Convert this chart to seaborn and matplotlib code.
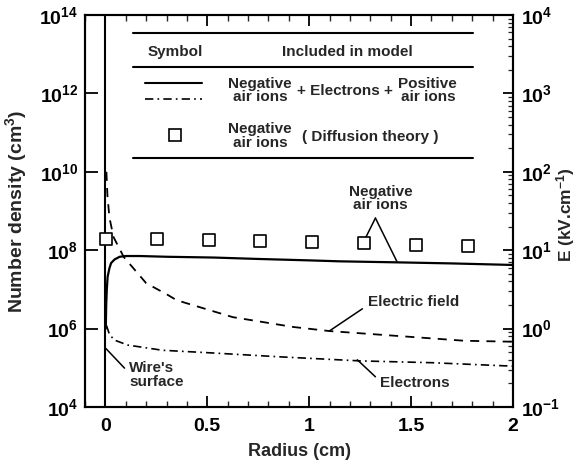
import numpy as np
import pandas as pd
import seaborn as sns
import matplotlib
matplotlib.use("Agg")
import matplotlib.pyplot as plt
from matplotlib.ticker import FixedLocator, NullLocator, LogLocator, FixedFormatter, NullFormatter

# ---------------- data ----------------
r_ions = [0.002, 0.004, 0.007, 0.011, 0.02, 0.028, 0.045, 0.07, 0.1, 0.17, 0.3, 0.53, 0.74, 1.0, 1.15, 1.43, 1.7, 2.0]
n_ions = [1.0e6, 4.0e6, 1.0e7, 2.1e7, 3.5e7, 4.7e7, 5.8e7, 6.8e7, 7.1e7, 7.1e7, 6.8e7, 6.5e7, 6.0e7, 5.5e7, 5.2e7, 4.9e7, 4.6e7, 4.2e7]

r_elec = [0.005, 0.008, 0.02, 0.044, 0.11, 0.28, 0.52, 0.86, 1.25, 1.6, 2.0]
n_elec = [1.2e6, 1.1e6, 7.1e5, 5.1e5, 3.8e5, 2.8e5, 2.4e5, 1.9e5, 1.5e5, 1.35e5, 1.1e5]

r_field = [0.005, 0.01, 0.02, 0.04, 0.09, 0.2, 0.305, 0.35, 0.625, 0.92, 1.1, 1.51, 1.76, 2.0]
e_field = [100, 50, 26, 14.7, 8.2, 3.8, 2.7, 2.3, 1.4, 1.05, 0.93, 0.78, 0.70, 0.68]

r_diff = [0.005, 0.255, 0.51, 0.76, 1.015, 1.27, 1.525, 1.78]
n_diff = [1.93e8, 1.93e8, 1.82e8, 1.74e8, 1.65e8, 1.5e8, 1.35e8, 1.28e8]

x_ticks = [0, 0.5, 1, 1.5, 2]
x_ticklabels = ["0", "0.5", "1", "1.5", "2"]
yl_ticks = [1e4, 1e6, 1e8, 1e10, 1e12, 1e14]
yl_ticklabels = [r"$\mathbf{10^{4}}$", r"$\mathbf{10^{6}}$", r"$\mathbf{10^{8}}$",
                 r"$\mathbf{10^{10}}$", r"$\mathbf{10^{12}}$", r"$\mathbf{10^{14}}$"]
yr_ticks = [1e-1, 1e0, 1e1, 1e2, 1e3, 1e4]
yr_ticklabels = [r"$\mathbf{10^{-1}}$", r"$\mathbf{10^{0}}$", r"$\mathbf{10^{1}}$",
                 r"$\mathbf{10^{2}}$", r"$\mathbf{10^{3}}$", r"$\mathbf{10^{4}}$"]

# ---------------- style ----------------
sns.set_theme(style="white")
plt.rcParams["font.family"] = ["Liberation Sans", "DejaVu Sans"]
plt.rcParams["font.weight"] = "bold"
plt.rcParams["mathtext.fontset"] = "custom"
plt.rcParams["mathtext.rm"] = "Liberation Sans:bold"
plt.rcParams["mathtext.bf"] = "Liberation Sans:bold"
plt.rcParams["mathtext.it"] = "Liberation Sans:bold"

fig = plt.figure(figsize=(5.81, 4.65), dpi=100)
ax = fig.add_axes([85 / 581, 1 - 407 / 465, 428 / 581, 392 / 465])
ax2 = ax.twinx()

ax.set_yscale("log")
ax2.set_yscale("log")
ax.set_xlim(-0.1, 2.0)
ax.set_ylim(1e4, 1e14)
ax2.set_ylim(1e-1, 1e4)

# wire surface
ax.axvline(0, color="black", lw=1.5, zorder=1)

df_ions = pd.DataFrame({"r": r_ions, "n": n_ions})
df_elec = pd.DataFrame({"r": r_elec, "n": n_elec})
df_field = pd.DataFrame({"r": r_field, "E": e_field})
df_diff = pd.DataFrame({"r": r_diff, "n": n_diff})

sns.lineplot(data=df_ions, x="r", y="n", ax=ax, color="black", lw=1.6, estimator=None, sort=False)
sns.lineplot(data=df_elec, x="r", y="n", ax=ax, color="black", lw=1.2, estimator=None, sort=False)
ax.lines[-1].set_linestyle((0, (5, 2.5, 1, 2.5)))
sns.scatterplot(data=df_diff, x="r", y="n", ax=ax, marker="s", s=75, facecolor="white",
                edgecolor="black", linewidth=1.2, zorder=5)
sns.lineplot(data=df_field, x="r", y="E", ax=ax2, color="black", lw=1.3, estimator=None, sort=False)
ax2.lines[-1].set_linestyle((0, (5, 4)))

# ---------------- axes / ticks ----------------
for a in (ax, ax2):
    for s in a.spines.values():
        s.set_color("black")
        s.set_linewidth(1.5)

ax.xaxis.set_major_locator(FixedLocator(x_ticks))
ax.xaxis.set_major_formatter(FixedFormatter(x_ticklabels))
ax.xaxis.set_minor_locator(FixedLocator([round(-0.1 + 0.1 * i, 2) for i in range(22)]))
ax.yaxis.set_major_locator(FixedLocator(yl_ticks))
ax.yaxis.set_major_formatter(FixedFormatter(yl_ticklabels))
ax.yaxis.set_minor_locator(NullLocator())
ax.yaxis.set_minor_formatter(NullFormatter())

ax2.yaxis.set_major_locator(FixedLocator(yr_ticks))
ax2.yaxis.set_major_formatter(FixedFormatter(yr_ticklabels))
ax2.yaxis.set_minor_locator(LogLocator(base=10, subs=np.arange(2, 10), numticks=20))
ax2.yaxis.set_minor_formatter(NullFormatter())

ax.tick_params(axis="x", which="major", direction="in", length=8, width=1.3, bottom=True, top=True,
               labelsize=14, pad=8, colors="black")
ax.tick_params(axis="x", which="minor", direction="in", length=4, width=1.0, bottom=True, top=True)
ax.tick_params(axis="y", which="major", direction="in", length=9, width=1.3, left=True, right=False,
               labelsize=14, pad=5, colors="black")
ax2.tick_params(axis="y", which="major", direction="in", length=7, width=1.3, right=True, left=False,
                labelsize=14, pad=6, colors="black")
ax2.tick_params(axis="y", which="minor", direction="in", length=3.5, width=0.9, right=True, left=False)

ax.set_xlabel("Radius (cm)", fontsize=13, fontweight="bold", labelpad=6)
ax.set_ylabel(r"Number density (cm$^{3}$)", fontsize=14, fontweight="bold")
ax.yaxis.set_label_coords(-0.132, 0.5)
ax2.set_ylabel(r"E (kV.cm$^{-1}$)", fontsize=12.5, fontweight="bold")
ax2.yaxis.set_label_coords(1.097, 0.49)

# ---------------- annotations ----------------
fs = 11
line_kw = dict(arrowstyle="-", color="black", lw=1.1, shrinkA=0, shrinkB=0)
ax.text(1.35, 2.1e9, "Negative\nair ions", ha="center", va="center", fontsize=fs,
        fontweight="bold", linespacing=0.95)
ax.annotate("", xy=(1.276, 2.04e8), xytext=(1.325, 6.6e8), arrowprops=line_kw)
ax.annotate("", xy=(1.43, 5.2e7), xytext=(1.325, 6.6e8), arrowprops=line_kw)

ax.text(1.512, 4.8e6, "Electric field", ha="center", va="center", fontsize=fs, fontweight="bold")
ax.annotate("", xy=(1.099, 8.7e5), xytext=(1.261, 3.2e6), arrowprops=line_kw)

ax.text(1.52, 4.1e4, "Electrons", ha="center", va="center", fontsize=fs, fontweight="bold")
ax.annotate("", xy=(1.236, 1.6e5), xytext=(1.325, 5.9e4), arrowprops=line_kw)

ax.text(0.118, 6.6e4, "Wire's\nsurface", ha="left", va="center", fontsize=fs,
        fontweight="bold", linespacing=0.95)
ax.annotate("", xy=(0.0, 3.2e5), xytext=(0.094, 9.8e4), arrowprops=line_kw)

# ---------------- table-like legend ----------------
T = ax.transAxes
for yy in (0.954, 0.867, 0.635):
    ax.plot([0.112, 0.907], [yy, yy], color="black", lw=1.5, transform=T, clip_on=False)
ax.text(0.210, 0.906, "Symbol", transform=T, ha="center", va="center", fontsize=fs, fontweight="bold")
ax.text(0.612, 0.906, "Included in model", transform=T, ha="center", va="center", fontsize=fs,
        fontweight="bold")
ax.plot([0.140, 0.273], [0.827, 0.827], color="black", lw=1.5, transform=T)
ax.plot([0.140, 0.273], [0.786, 0.786], color="black", lw=1.2, ls=(0, (5, 2.5, 1, 2.5)), transform=T)
ax.text(0.409, 0.807, "Negative\nair ions", transform=T, ha="center", va="center", fontsize=fs,
        fontweight="bold", linespacing=0.95)
ax.text(0.607, 0.806, "+ Electrons +", transform=T, ha="center", va="center", fontsize=fs,
        fontweight="bold")
ax.text(0.801, 0.807, "Positive\nair ions", transform=T, ha="center", va="center", fontsize=fs,
        fontweight="bold", linespacing=0.95)
ax.plot([0.210], [0.694], marker="s", ms=9, mfc="white", mec="black", mew=1.2, transform=T)
ax.text(0.409, 0.691, "Negative\nair ions", transform=T, ha="center", va="center", fontsize=fs,
        fontweight="bold", linespacing=0.95)
ax.text(0.666, 0.689, "( Diffusion theory )", transform=T, ha="center", va="center", fontsize=fs,
        fontweight="bold")

fig.savefig("out.png", dpi=100)
